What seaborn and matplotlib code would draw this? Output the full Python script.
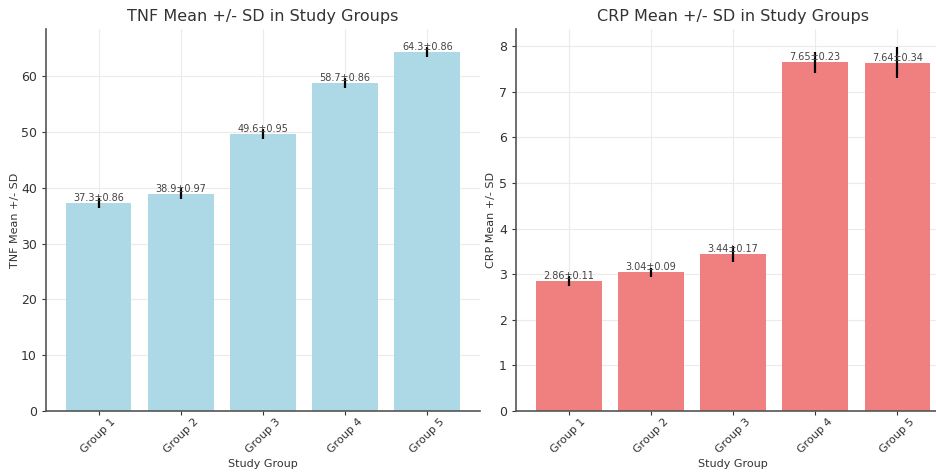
import matplotlib
matplotlib.use("Agg")
import matplotlib.pyplot as plt
import seaborn as sns
import pandas as pd

groups = ["Group 1", "Group 2", "Group 3", "Group 4", "Group 5"]
tnf_mean = [37.3, 38.9, 49.6, 58.7, 64.3]
tnf_sd = [0.86, 0.97, 0.95, 0.86, 0.86]
crp_mean = [2.86, 3.04, 3.44, 7.65, 7.64]
crp_sd = [0.11, 0.09, 0.17, 0.23, 0.34]

sns.set_style("whitegrid", {"grid.color": "#ebebeb", "axes.edgecolor": "#555555"})
plt.rcParams['font.family'] = ['DejaVu Sans']

fig = plt.figure(figsize=(9.36, 4.72), dpi=100)
ax1 = fig.add_axes([0.0491, 0.1292, 0.4637, 0.8093])
ax2 = fig.add_axes([0.5513, 0.1292, 0.4637, 0.8093])

panels = [
    (ax1, tnf_mean, tnf_sd, "lightblue", "TNF", "{:.1f}±{:.2f}", 1),
    (ax2, crp_mean, crp_sd, "lightcoral", "CRP", "{:.2f}±{:.2f}", 2),
]

for ax, means, sds, color, name, fmt, lp in panels:
    df = pd.DataFrame({"Study Group": groups, "Mean": means, "SD": sds})
    sns.barplot(data=df, x="Study Group", y="Mean", color=color, saturation=1,
                width=0.8, ax=ax, errorbar=None, linewidth=0, edgecolor="none")
    ax.errorbar(range(len(groups)), means, yerr=sds, fmt="none",
                ecolor="black", elinewidth=1.6, capsize=0, zorder=3)
    for i, (m, s) in enumerate(zip(means, sds)):
        ax.text(i, m, fmt.format(m, s), ha="center", va="bottom",
                fontsize=7, color="#444444", zorder=4)
    ax.set_xlim(-0.64, 4.64)
    ax.autoscale(axis="y")
    ax.margins(y=0.05)
    ax.set_ylim(bottom=0)
    ax.set_title(f"{name} Mean +/- SD in Study Groups", fontsize=11.5, color="#333333", pad=6)
    ax.set_xlabel("Study Group", fontsize=8, color="#333333", labelpad=3)
    ax.set_ylabel(f"{name} Mean +/- SD", fontsize=8, color="#333333", labelpad=lp)
    ax.tick_params(axis="x", labelrotation=45, labelsize=8, colors="#333333",
                   bottom=True, length=3, width=0.8, pad=1)
    ax.tick_params(axis="y", labelsize=9, colors="#333333", left=True, length=3, width=0.8)
    for lbl in ax.get_xticklabels():
        lbl.set_ha("center")
    sns.despine(ax=ax)
    for sp in ["left", "bottom"]:
        ax.spines[sp].set_linewidth(1.2)
        ax.spines[sp].set_color("#555555")
    ax.grid(True, axis="both", color="#ebebeb", linewidth=0.8)
    ax.set_axisbelow(True)

fig.savefig("out.png", dpi=100)
